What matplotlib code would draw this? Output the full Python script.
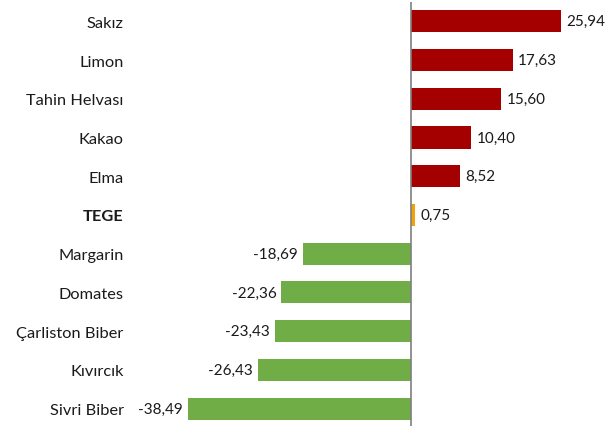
import matplotlib
matplotlib.use("Agg")
import matplotlib.pyplot as plt

categories = ["Sakız", "Limon", "Tahin Helvası", "Kakao", "Elma", "TEGE",
              "Margarin", "Domates", "Çarliston Biber", "Kıvırcık", "Sivri Biber"]
values = [25.94, 17.63, 15.60, 10.40, 8.52, 0.75,
          -18.69, -22.36, -23.43, -26.43, -38.49]
labels = ["25,94", "17,63", "15,60", "10,40", "8,52", "0,75",
          "-18,69", "-22,36", "-23,43", "-26,43", "-38,49"]

RED = "#A50000"
GREEN = "#70AD47"
ORANGE = "#F0A30A"
colors = [ORANGE if c == "TEGE" else (RED if v > 0 else GREEN)
          for c, v in zip(categories, values)]

plt.rcParams['font.family'] = ['Lato', 'DejaVu Sans']

W, H = 613, 427
fig = plt.figure(figsize=(W / 100, H / 100), dpi=100)
left_px, right_px = 130, 608
ax = fig.add_axes([left_px / W, 0, (right_px - left_px) / W, 1 - 3 / H])

scale = 5.8  # px per unit
zero_px = 411
ax.set_xlim((left_px - zero_px) / scale, (right_px - zero_px) / scale)
ypos = list(range(len(categories)))
ax.barh(ypos, values, height=0.57, color=colors, zorder=2)
ax.set_ylim(len(categories) - 0.55, -0.5)

ax.axvline(0, color="#7F7F7F", lw=1.2, zorder=3)

for y, v, t in zip(ypos, values, labels):
    off = 5 if v >= 0 else -5
    ax.annotate(t, (v, y), xytext=(off, 0), textcoords="offset pixels",
                ha="left" if v >= 0 else "right", va="center", fontsize=11, color="#1A1A1A")

ax.set_yticks(ypos)
ax.set_yticklabels(categories, fontsize=11.8, color="#1A1A1A")
for lbl, c in zip(ax.get_yticklabels(), categories):
    if c == "TEGE":
        lbl.set_fontweight("bold")
ax.tick_params(axis="y", length=0, pad=4.5)
ax.set_xticks([])
for s in ax.spines.values():
    s.set_visible(False)

fig.savefig("out.png", dpi=100)
